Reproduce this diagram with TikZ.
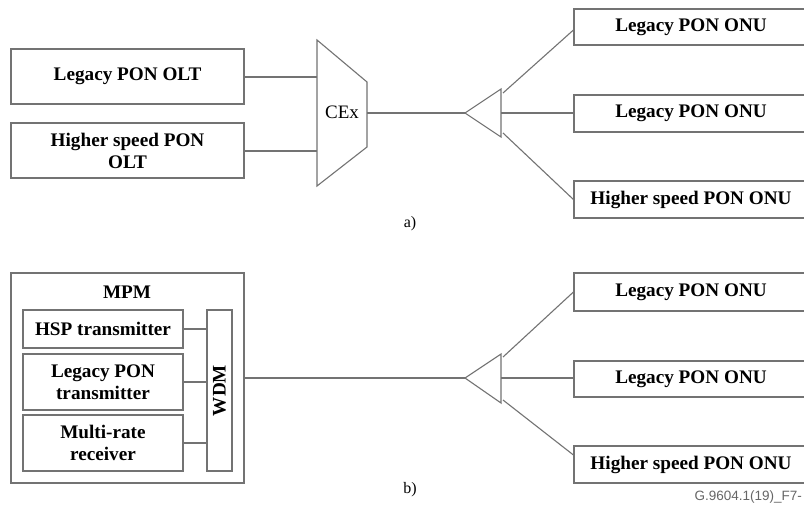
\documentclass[tikz,border=0pt]{standalone}
\usepackage{fontspec}
\setmainfont{Liberation Serif}
\newfontfamily\wmfont{Liberation Sans}
\begin{document}
\begin{tikzpicture}[x=1pt,y=-1pt,
  line/.style={draw=black!55,line width=1.1pt},
  box/.style={line,rectangle,inner sep=0pt,align=center,text=black,
    font=\bfseries\fontsize{19.2}{22}\selectfont},
  onubox/.style={box,minimum width=234pt},
  olt/.style={box,minimum width=233pt,minimum height=55pt},
  inner/.style={box,minimum width=160pt},
  sub/.style={font=\fontsize{16}{18}\selectfont}]
\clip (0,0) rectangle (804,506);
\fill[white] (0,0) rectangle (804,506);

% ---------- a) ----------
\node[olt] (olt1) at (127.5,76.5) {Legacy PON OLT};
\node[olt] (olt2) at (127.5,150.5) {Higher speed PON\\OLT};

\coordinate (cexTL) at (317,40);
\coordinate (cexBL) at (317,186);
\coordinate (cexTR) at (367,82);
\coordinate (cexBR) at (367,147);
\draw[line,line join=miter] (cexTL) -- (cexTR) -- (cexBR) -- (cexBL) -- cycle;
\node[font=\fontsize{19}{22}\selectfont] (cex) at (342,112) {CEx};
\coordinate (cexin1) at (317,77);
\coordinate (cexin2) at (317,151);
\coordinate (cexout) at (367,113);
\draw[line] (olt1.east |- cexin1) -- (cexin1);
\draw[line] (olt2.east |- cexin2) -- (cexin2);

\coordinate (spa) at (465,113);
\coordinate (spaT) at (501,89);
\coordinate (spaB) at (501,137);
\draw[line,line join=miter] (spa) -- (spaT) -- (spaB) -- cycle;
\draw[line] (cexout) -- (spa);

\node[onubox,minimum height=36pt] (onua1) at (691,27) {Legacy PON ONU};
\node[onubox,minimum height=37pt] (onua2) at (691,113.5) {Legacy PON ONU};
\node[onubox,minimum height=37pt] (onua3) at (691,199.5) {Higher speed PON ONU};
\coordinate (spaO1) at (503,93);
\coordinate (spaO3) at (503,133);
\draw[line] (spaO1) -- (onua1.west |- 0,30);
\draw[line] (spaT |- spa) -- (onua2.west |- spa);
\draw[line] (spaO3) -- (onua3.west);

\node[sub] (laba) at (410,224) {a)};

% ---------- b) ----------
\node[box,minimum width=233pt,minimum height=210pt] (mpm) at (127.5,378) {};
\node[font=\bfseries\fontsize{19.2}{22}\selectfont] (mpmlab) at (127,292) {MPM};
\node[inner,minimum height=38pt] (hsp) at (103,329) {HSP transmitter};
\node[inner,minimum height=56pt] (lpt) at (103,382) {Legacy PON\\transmitter};
\node[inner,minimum height=56pt] (mrr) at (103,443) {Multi-rate\\receiver};
\node[box,minimum width=25pt,minimum height=161pt] (wdm) at (219.5,390.5) {};
\node[rotate=90,font=\bfseries\fontsize{19.2}{22}\selectfont] (wdmlab) at (219.5,390.5) {WDM};
\draw[line] (hsp.east) -- (wdm.west |- hsp.east);
\draw[line] (lpt.east) -- (wdm.west |- lpt.east);
\draw[line] (mrr.east) -- (wdm.west |- mrr.east);

\coordinate (spb) at (465,378);
\coordinate (spbT) at (501,354);
\coordinate (spbB) at (501,403);
\draw[line,line join=miter] (spb) -- (spbT) -- (spbB) -- cycle;
\draw[line] (mpm.east |- spb) -- (spb);

\node[onubox,minimum height=38pt] (onub1) at (691,292) {Legacy PON ONU};
\node[onubox,minimum height=36pt] (onub2) at (691,379) {Legacy PON ONU};
\node[onubox,minimum height=37pt] (onub3) at (691,464.5) {Higher speed PON ONU};
\coordinate (spbO1) at (503,357);
\coordinate (spbO3) at (503,400);
\draw[line] (spbO1) -- (onub1.west);
\draw[line] (spbT |- spb) -- (onub2.west |- spb);
\draw[line] (spbO3) -- (onub3.west |- 0,455);

\node[sub] (labb) at (410,490) {b)};
\node[anchor=west,text=black!60,font=\wmfont\fontsize{13.5}{15}\selectfont] (fig) at (691,497) {G.9604.1(19)\_F7-};
\end{tikzpicture}
\end{document}
